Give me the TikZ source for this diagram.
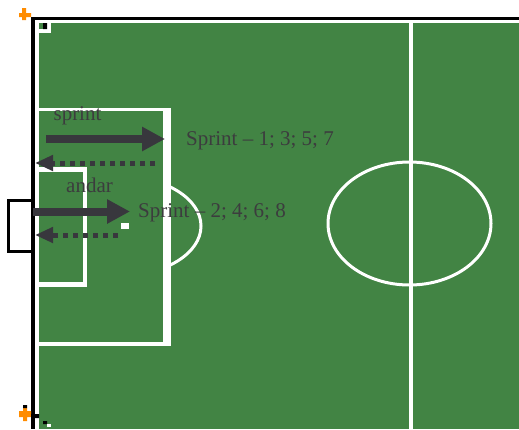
\documentclass[tikz,border=0pt]{standalone}
\usepackage{fontspec}
\setmainfont{Liberation Serif}
\usetikzlibrary{arrows.meta,positioning}
\definecolor{pitchgreen}{RGB}{66,132,68}
\definecolor{runink}{RGB}{56,55,61}
\definecolor{textgray}{RGB}{60,60,62}
\definecolor{flagorange}{RGB}{255,140,0}
\tikzset{
  chalk/.style={white,line width=3.5pt},
  border/.style={black,line width=3pt},
  sprintrun/.style={runink,line width=8pt,-{Triangle[length=23pt,width=23pt]}},
  jogback/.style={runink,line width=5pt,dash pattern=on 5pt off 5pt,
                  -{Triangle[length=18pt,width=15pt]}},
  lbl/.style={font=\fontsize{21}{24}\selectfont,text=textgray,inner sep=0pt},
}

\begin{document}
\begin{tikzpicture}[x=1pt,y=-1pt]
  \path[use as bounding box,fill=white] (0,0) rectangle (519,429);
  % pitch
  \fill[pitchgreen] (39,23) rectangle (519,429);
  \draw[border] (31,18.5) -- (519,18.5);
  \draw[black,line width=4pt] (33,17) -- (33,429);
  \draw[border] (33,200.5) -| (8.5,251.5) -- (33,251.5);

  % markings
  \draw[chalk] (411,23) -- (411,429);
  \draw[chalk,line width=3pt] (409.5,223.5) ellipse [x radius=81.5, y radius=61.5];
  \draw[chalk] (39,109.5) -| (167,344) -- (39,344);
  \draw[white,line width=8pt] (167,108) -- (167,346);
  \draw[chalk,line width=4.5pt] (39,169.5) -| (85,284.5) -- (39,284.5);
  \begin{scope}
    \clip (167,0) rectangle (260,429);
    \draw[chalk,line width=3pt] (121,226) ellipse [x radius=80, y radius=49.5];
  \end{scope}
  \fill[white] (121,223) rectangle (129,229);

  % corner flags
  \fill[flagorange] (22,8) rectangle (26,20) (19,13) rectangle (31,17);
  \fill[flagorange] (23,408) rectangle (27,421) (19,411) rectangle (31,417);
  \fill[black] (23,405) rectangle (27,408) (31,414) rectangle (39,418);
  \fill[white] (39,23) rectangle (51,33);
  \fill[pitchgreen] (39,23) rectangle (43,29);
  \fill[black] (43,23) rectangle (47,29) (43,421) rectangle (47,424);
  \fill[white] (47,424) rectangle (51,427);

  % runs
  \coordinate (s1tail) at (46,139);
  \coordinate (s1head) at (165,139);
  \coordinate (b1tail) at (155,163);
  \coordinate (b1head) at (35,163);
  \coordinate (s2tail) at (33,211.5);
  \coordinate (s2head) at (130,211.5);
  \coordinate (b2tail) at (118,235);
  \coordinate (b2head) at (35,235);
  \draw[sprintrun] (s1tail) -- (s1head);
  \draw[jogback] (b1tail) -- (b1head);
  \draw[sprintrun] (s2tail) -- (s2head);
  \draw[jogback] (b2tail) -- (b2head);

  \node[lbl,anchor=base] (sprintlbl) at (77.5,120) {sprint};
  \node[lbl,anchor=base west] (odd) at (186,145) {Sprint – 1; 3; 5; 7};
  \node[lbl,anchor=base] (andarlbl) at (89.5,192) {andar};
  \node[lbl,anchor=base west] (even) at (138,217) {Sprint – 2; 4; 6; 8};
\end{tikzpicture}
\end{document}
